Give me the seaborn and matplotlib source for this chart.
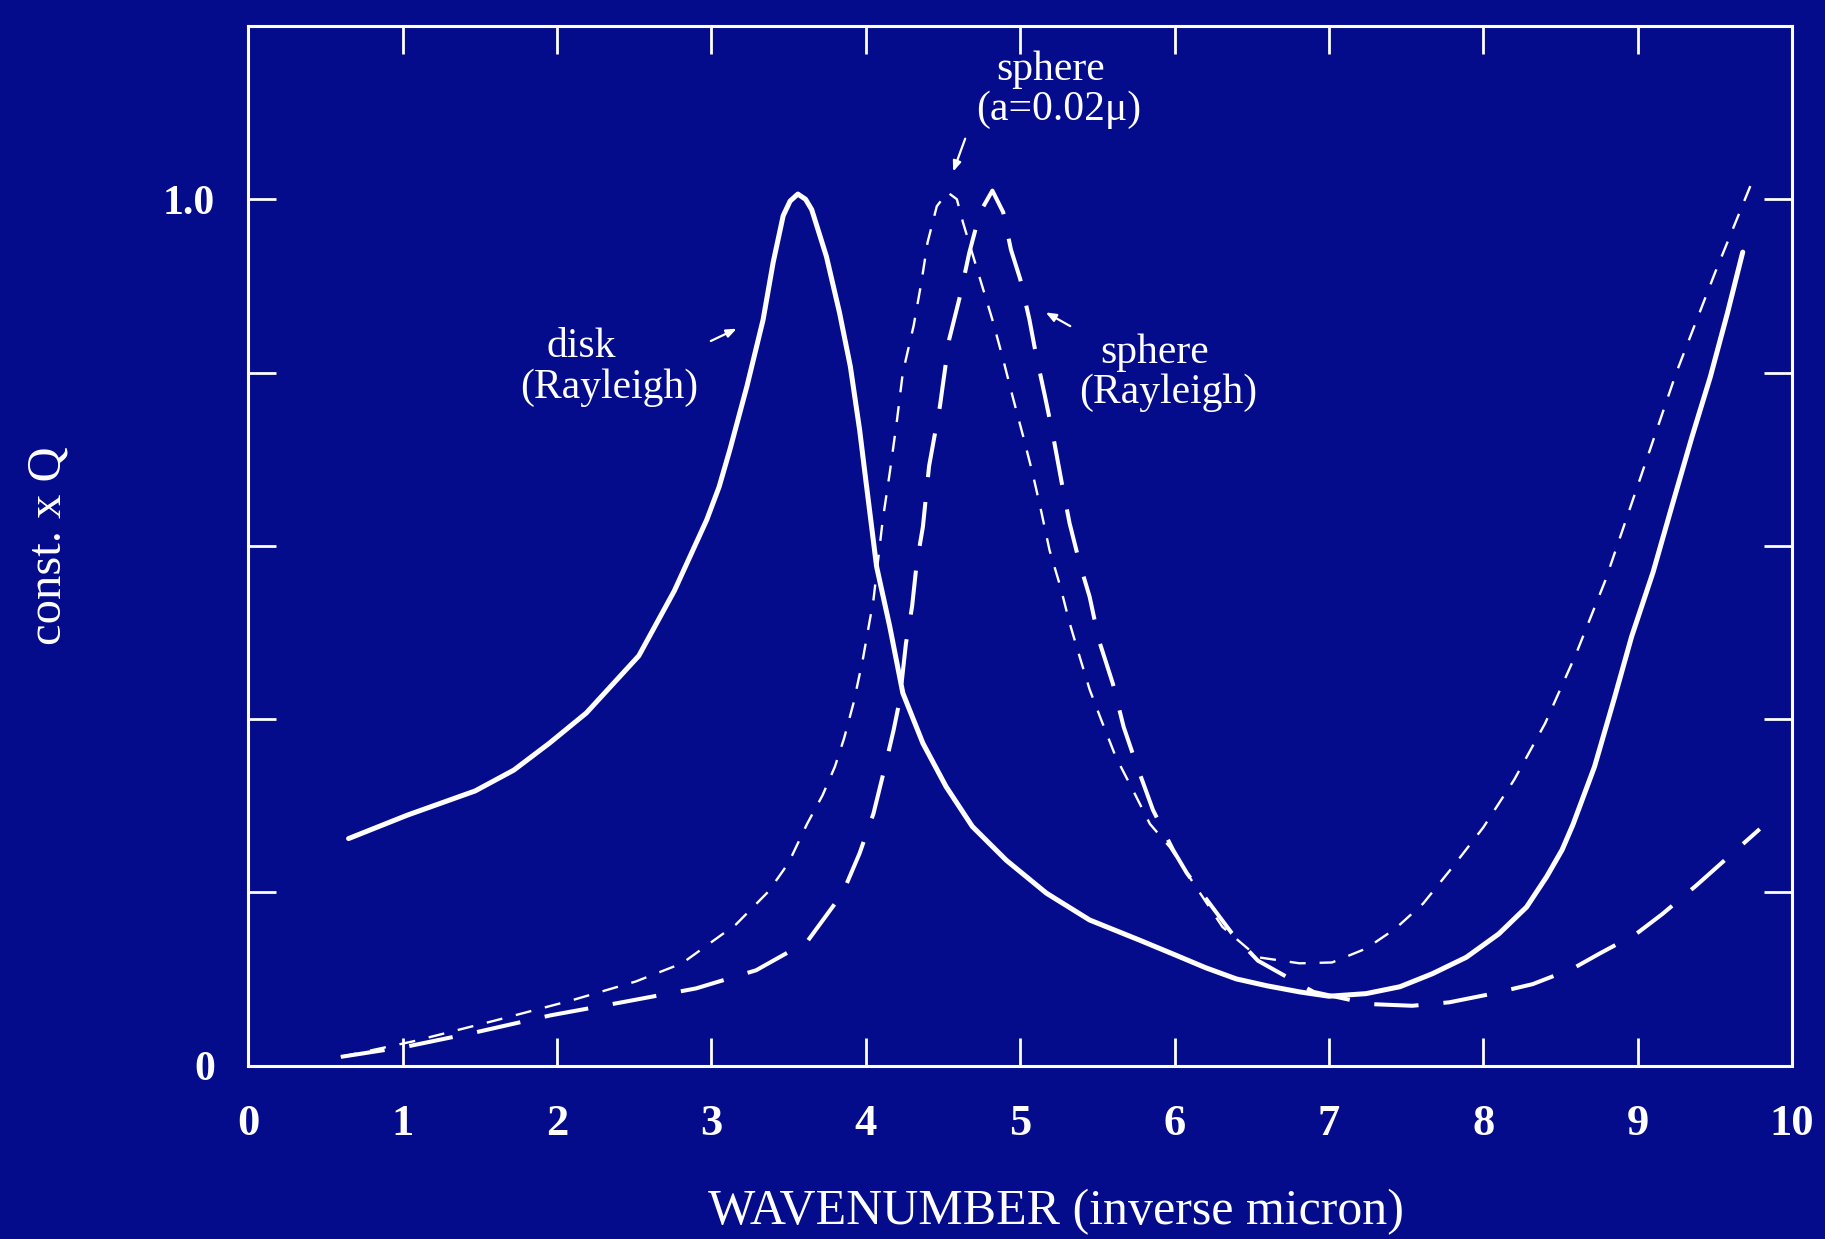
import matplotlib
matplotlib.use("Agg")
import matplotlib.pyplot as plt
import seaborn as sns

# values (wavenumber in inverse micron, const. x Q)
disk_x = [0.65, 1.03, 1.47, 1.72, 1.95, 2.19, 2.53, 2.76, 2.97, 3.05, 3.12, 3.23, 3.335,
          3.40, 3.465, 3.51, 3.56, 3.61, 3.65, 3.745, 3.83, 3.90, 3.96, 4.00, 4.07, 4.155,
          4.24, 4.37, 4.52, 4.69, 4.91, 5.17, 5.45, 5.77, 6.00, 6.20, 6.40, 6.60, 6.81,
          7.00, 7.24, 7.46, 7.67, 7.89, 8.10, 8.28, 8.41, 8.51, 8.58, 8.72, 8.85, 8.96,
          9.10, 9.22, 9.35, 9.47, 9.58, 9.68]
disk_y = [0.262, 0.289, 0.317, 0.341, 0.372, 0.407, 0.473, 0.548, 0.630, 0.668, 0.711,
          0.784, 0.861, 0.927, 0.981, 0.998, 1.006, 1.000, 0.988, 0.934, 0.869, 0.807,
          0.734, 0.676, 0.576, 0.507, 0.430, 0.372, 0.322, 0.276, 0.237, 0.199, 0.168,
          0.145, 0.128, 0.113, 0.100, 0.092, 0.085, 0.080, 0.083, 0.091, 0.106, 0.125,
          0.152, 0.183, 0.218, 0.249, 0.278, 0.345, 0.425, 0.495, 0.570, 0.645, 0.725,
          0.795, 0.868, 0.939]

sphere_x = [0.60, 1.07, 1.60, 2.09, 2.51, 2.81, 3.16, 3.37, 3.50, 3.62, 3.72, 3.80, 3.86,
            3.92, 3.98, 4.05, 4.11, 4.155, 4.20, 4.24, 4.31, 4.36, 4.40, 4.46, 4.53, 4.59,
            4.63, 4.74, 4.82, 4.89, 4.95, 5.02, 5.08, 5.13, 5.19, 5.26, 5.32, 5.385, 5.45,
            5.525, 5.62, 5.73, 5.84, 5.97, 6.08, 6.31, 6.54, 6.81, 7.02, 7.24, 7.43, 7.61,
            7.80, 8.00, 8.20, 8.40, 8.60, 8.79, 9.02, 9.25, 9.50, 9.74]
sphere_y = [0.010, 0.028, 0.052, 0.075, 0.097, 0.118, 0.163, 0.201, 0.234, 0.279, 0.312,
            0.345, 0.378, 0.418, 0.468, 0.538, 0.630, 0.684, 0.742, 0.800, 0.854, 0.904,
            0.950, 0.992, 1.008, 1.000, 0.973, 0.908, 0.861, 0.815, 0.773, 0.726, 0.684,
            0.645, 0.595, 0.553, 0.511, 0.472, 0.434, 0.399, 0.356, 0.318, 0.279, 0.252,
            0.222, 0.160, 0.125, 0.118, 0.119, 0.135, 0.158, 0.187, 0.229, 0.275, 0.330,
            0.395, 0.475, 0.560, 0.680, 0.800, 0.915, 1.020]

ray_x = [0.60, 1.03, 1.49, 1.96, 2.42, 2.90, 3.29, 3.62, 3.85, 3.96, 4.05, 4.13, 4.18,
         4.22, 4.26, 4.30, 4.33, 4.37, 4.41, 4.48, 4.54, 4.61, 4.67, 4.74, 4.82, 4.89,
         4.94, 5.00, 5.06, 5.10, 5.16, 5.21, 5.27, 5.32, 5.385, 5.45, 5.51, 5.60, 5.67,
         5.75, 5.86, 5.99, 6.08, 6.37, 6.54, 6.90, 7.26, 7.54, 7.78, 8.06, 8.32, 8.58,
         8.75, 8.99, 9.16, 9.38, 9.79]
ray_y = [0.010, 0.022, 0.039, 0.058, 0.073, 0.089, 0.110, 0.143, 0.199, 0.245, 0.291,
         0.349, 0.387, 0.422, 0.487, 0.530, 0.580, 0.622, 0.692, 0.761, 0.838, 0.888,
         0.938, 0.985, 1.010, 0.985, 0.942, 0.908, 0.861, 0.823, 0.773, 0.730, 0.672,
         0.626, 0.580, 0.541, 0.491, 0.441, 0.391, 0.349, 0.295, 0.249, 0.222, 0.153,
         0.121, 0.085, 0.071, 0.069, 0.073, 0.083, 0.094, 0.112, 0.129, 0.152, 0.175,
         0.208, 0.273]

x_ticks = [0, 1, 2, 3, 4, 5, 6, 7, 8, 9, 10]
y_ticks = [0, 0.2, 0.4, 0.6, 0.8, 1.0]
y_ticklabels = ["0", "", "", "", "", "1.0"]

bg = "#040c8c"
sns.set_theme(style="ticks")
plt.rcParams["font.family"] = ["Liberation Serif", "DejaVu Serif"]

fig = plt.figure(figsize=(18.25, 12.39), dpi=100, facecolor=bg)
ax = fig.add_axes([0.136, 0.140, 0.846, 0.839], facecolor=bg)

sns.lineplot(x=disk_x, y=disk_y, ax=ax, color="white", linewidth=3.6,
             solid_capstyle="round", solid_joinstyle="round")
sns.lineplot(x=sphere_x, y=sphere_y, ax=ax, color="white", linewidth=1.7,
             linestyle=(0, (6.8, 5.9)))
sns.lineplot(x=ray_x, y=ray_y, ax=ax, color="white", linewidth=2.9,
             linestyle=(0, (11, 6.2)))

ax.set_xlim(0, 10)
ax.set_ylim(0, 1.2)
ax.set_xticks(x_ticks)
ax.set_xticklabels([str(t) for t in x_ticks], fontsize=32, fontweight="bold", color="white")
ax.set_yticks(y_ticks)
ax.set_yticklabels(y_ticklabels, fontsize=30, fontweight="bold", color="white")
ax.tick_params(axis="both", direction="in", length=20, width=2, colors="white",
               top=True, right=True)
ax.tick_params(axis="x", pad=28)
ax.tick_params(axis="y", pad=24)
for s in ax.spines.values():
    s.set_color("white")
    s.set_linewidth(2.2)

ax.set_xlabel("WAVENUMBER (inverse micron)", fontsize=36, color="white")
ax.xaxis.set_label_coords(0.523, -0.118)
ax.set_ylabel("const. x Q", fontsize=35, color="white", labelpad=66)

txt = dict(color="white", fontsize=30, ha="center", va="center")
ax.text(5.2, 1.15, "sphere", **txt)
ax.text(5.25, 1.103, "(a=0.02μ)", **txt)
ax.text(2.16, 0.83, "disk", **txt)
ax.text(2.34, 0.783, "(Rayleigh)", **txt)
ax.text(5.87, 0.823, "sphere", **txt)
ax.text(5.96, 0.777, "(Rayleigh)", **txt)

arrow = dict(arrowstyle="-|>,head_length=0.5,head_width=0.2", color="white", lw=1.6)
ax.annotate("", xy=(4.56, 1.029), xytext=(4.65, 1.073), arrowprops=arrow)
ax.annotate("", xy=(3.18, 0.852), xytext=(2.98, 0.835), arrowprops=arrow)
ax.annotate("", xy=(5.15, 0.871), xytext=(5.34, 0.852), arrowprops=arrow)

fig.savefig("out.png", dpi=100, facecolor=bg)
